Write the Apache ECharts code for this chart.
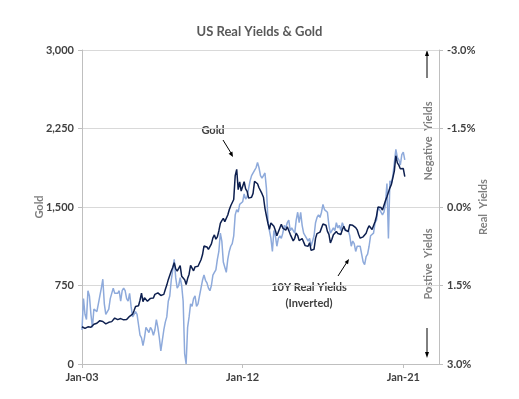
<!DOCTYPE html>
<html>
<head>
<meta charset="utf-8">
<script src="https://cdn.jsdelivr.net/npm/echarts@6/dist/echarts.min.js"></script>
<style>
  html, body { margin: 0; padding: 0; background: #fff; }
  #chart { width: 519px; height: 399px; }
</style>
</head>
<body>
<div id="chart"></div>
<script>
// monthly series, Jan-2003 .. Feb-2021
const startYear = 2003

const gold = [
  356, 359, 340, 328, 355, 356, 351, 360, 379, 379, 389, 407,
  414, 405, 406, 404, 384, 392, 398, 400, 405, 420, 439, 442,
  424, 423, 434, 429, 422, 430, 424, 438, 456, 470, 476, 510,
  550, 555, 557, 610, 676, 596, 633, 632, 599, 585, 627, 629,
  631, 665, 655, 679, 667, 655, 665, 665, 712, 754, 806, 803,
  889, 922, 968, 909, 888, 889, 939, 839, 829, 806, 760, 816,
  858, 943, 924, 890, 928, 946, 934, 949, 996, 1043, 1127, 1134,
  1118, 1095, 1113, 1148, 1205, 1233, 1193, 1215, 1271, 1343, 1370, 1391,
  1360, 1374, 1424, 1474, 1512, 1529, 1572, 1800, 1860, 1665, 1739, 1652,
  1656, 1742, 1673, 1650, 1585, 1596, 1594, 1630, 1744, 1747, 1722, 1684,
  1671, 1627, 1593, 1487, 1414, 1343, 1287, 1348, 1349, 1316, 1275, 1225,
  1244, 1300, 1336, 1299, 1288, 1279, 1311, 1296, 1239, 1222, 1176, 1201,
  1251, 1227, 1179, 1198, 1199, 1182, 1131, 1117, 1125, 1159, 1086, 1068,
  1097, 1200, 1246, 1242, 1260, 1276, 1337, 1341, 1326, 1267, 1238, 1157,
  1192, 1234, 1231, 1267, 1246, 1260, 1237, 1283, 1315, 1280, 1283, 1265,
  1331, 1331, 1325, 1334, 1303, 1282, 1238, 1202, 1199, 1215, 1221, 1250,
  1291, 1320, 1301, 1286, 1283, 1359, 1413, 1500, 1510, 1495, 1471, 1480,
  1560, 1597, 1591, 1683, 1716, 1732, 1846, 1990, 1921, 1900, 1866, 1858,
  1867, 1790
]

// 10Y real yield, %, plotted on the inverted right axis
const realYield = [
  2.35, 1.75, 2.05, 2.15, 1.6, 1.7, 2.05, 2.3, 1.95, 1.95, 2.0, 1.85,
  1.7, 1.55, 1.38, 1.85, 2.05, 2.05, 1.95, 1.75, 1.65, 1.55, 1.65, 1.65,
  1.65, 1.6, 1.8, 1.6, 1.55, 1.6, 1.75, 1.8, 1.65, 1.9, 2.1, 2.05,
  2.0, 2.05, 2.25, 2.45, 2.5, 2.65, 2.5, 2.3, 2.35, 2.4, 2.3, 2.35,
  2.45, 2.35, 2.15, 2.3, 2.5, 2.75, 2.55, 2.35, 2.2, 2.1, 1.8, 1.7,
  1.4, 1.2, 1.0, 1.35, 1.55, 1.5, 1.35, 1.5, 1.8, 2.8, 3.0, 2.3,
  2.1, 1.85, 1.9, 1.75, 1.7, 1.9, 1.85, 1.7, 1.55, 1.4, 1.3, 1.4,
  1.45, 1.55, 1.6, 1.5, 1.3, 1.25, 1.2, 1.0, 0.85, 0.5, 0.65, 1.05,
  1.15, 1.25, 1.0, 0.85, 0.75, 0.7, 0.55, 0.15, 0.05, 0.1, -0.05, -0.05,
  -0.1, -0.25, -0.15, -0.2, -0.35, -0.5, -0.6, -0.6, -0.7, -0.75, -0.85, -0.75,
  -0.6, -0.55, -0.6, -0.65, -0.35, 0.25, 0.45, 0.6, 0.85, 0.45, 0.55, 0.75,
  0.6, 0.55, 0.6, 0.5, 0.35, 0.4, 0.3, 0.25, 0.45, 0.4, 0.45, 0.5,
  0.25, 0.1, 0.3, 0.1, 0.35, 0.5, 0.5, 0.6, 0.65, 0.6, 0.75, 0.75,
  0.55, 0.3, 0.2, 0.15, 0.2, 0.1, -0.05, 0.05, 0.05, 0.1, 0.35, 0.5,
  0.45, 0.4, 0.45, 0.3, 0.4, 0.35, 0.45, 0.3, 0.3, 0.45, 0.45, 0.45,
  0.55, 0.75, 0.65, 0.7, 0.85, 0.75, 0.75, 0.75, 0.9, 1.05, 1.1, 0.95,
  0.9, 0.75, 0.55, 0.55, 0.5, 0.3, 0.25, 0.0, 0.05, 0.1, 0.15, 0.1,
  -0.05, -0.45, 0.6, -0.5, -0.45, -0.6, -0.85, -1.1, -0.95, -0.9, -0.8, -1.0,
  -1.05, -0.9
]

const xTickYears = [2003, 2012, 2021]
const xTickLabels = ['Jan-03', 'Jan-12', 'Jan-21']

const FONT = 'Lato, "DejaVu Sans", sans-serif'
const labelColor = '#404040'
const nameColor = '#7f7f7f'
const lineGray = '#bfbfbf'

const toXY = (arr) => arr.map((v, i) => [startYear + i / 12, v])

const chart = echarts.init(document.getElementById('chart'))

const arrowHead = (pts) => ({
  type: 'polygon',
  shape: { points: pts },
  style: { fill: '#000' },
})

const option = {
  animation: false,
  title: {
    text: 'US Real Yields & Gold',
    left: 'center',
    top: 20,
    textStyle: { fontFamily: FONT, fontSize: 13, fontWeight: 'bold', color: '#595959' },
  },
  grid: { left: 82, right: 80, top: 50, bottom: 35 },
  xAxis: {
    type: 'value',
    min: 2003,
    max: 2023,
    axisLine: { lineStyle: { color: lineGray } },
    axisTick: { show: true, customValues: xTickYears, length: 4, lineStyle: { color: lineGray } },
    axisLabel: {
      customValues: xTickYears,
      formatter: (v) => xTickLabels[xTickYears.indexOf(Math.round(v))] || '',
      fontFamily: FONT,
      fontSize: 11,
      fontWeight: 'bold',
      color: labelColor,
      margin: 8,
    },
    splitLine: { show: false },
  },
  yAxis: [
    {
      type: 'value',
      min: 0,
      max: 3000,
      interval: 750,
      name: 'Gold',
      nameLocation: 'middle',
      nameGap: 37,
      nameRotate: 90,
      nameMoveOverlap: false,
      nameTextStyle: { fontFamily: FONT, fontSize: 11, fontWeight: 'bold', color: nameColor },
      axisLine: { show: true, lineStyle: { color: lineGray } },
      axisTick: { show: true, length: 4, lineStyle: { color: lineGray } },
      axisLabel: {
        formatter: (v) => v.toLocaleString('en-US'),
        fontFamily: FONT,
        fontSize: 11,
        fontWeight: 'bold',
        color: labelColor,
        margin: 8,
      },
      splitLine: { lineStyle: { color: '#d9d9d9' } },
    },
    {
      type: 'value',
      min: -3,
      max: 3,
      interval: 1.5,
      inverse: true,
      position: 'right',
      name: 'Real  Yields',
      nameLocation: 'middle',
      nameGap: 39,
      nameRotate: 90,
      nameMoveOverlap: false,
      nameTextStyle: { fontFamily: FONT, fontSize: 11, fontWeight: 'bold', color: nameColor },
      axisLine: { show: true, lineStyle: { color: lineGray } },
      axisTick: { show: true, length: 4, lineStyle: { color: lineGray } },
      axisLabel: {
        formatter: (v) => v.toFixed(1) + '%',
        fontFamily: FONT,
        fontSize: 11,
        fontWeight: 'bold',
        color: labelColor,
        margin: 8,
      },
      splitLine: { show: false },
    },
  ],
  series: [
    {
      name: '10Y Real Yields (Inverted)',
      type: 'line',
      yAxisIndex: 1,
      data: toXY(realYield),
      symbol: 'none',
      lineStyle: { color: '#8eaadb', width: 1.5 },
    },
    {
      name: 'Gold',
      type: 'line',
      yAxisIndex: 0,
      data: toXY(gold),
      symbol: 'none',
      lineStyle: { color: '#0d1f4f', width: 1.5 },
    },
  ],
  graphic: [
    {
      type: 'text',
      x: 213, y: 130,
      style: { text: 'Gold', fontFamily: FONT, fontSize: 11, fontWeight: 'bold', fill: labelColor, align: 'center', verticalAlign: 'middle' },
    },
    { type: 'line', shape: { x1: 223, y1: 140, x2: 231, y2: 153 }, style: { stroke: '#000', lineWidth: 1 } },
    arrowHead([[233, 157], [228.6, 153.8], [232.4, 151.6]]),
    {
      type: 'text',
      x: 309, y: 287,
      style: { text: '10Y Real Yields', fontFamily: FONT, fontSize: 11, fontWeight: 'bold', fill: labelColor, align: 'center', verticalAlign: 'middle' },
    },
    {
      type: 'text',
      x: 309, y: 303,
      style: { text: '(Inverted)', fontFamily: FONT, fontSize: 11, fontWeight: 'bold', fill: labelColor, align: 'center', verticalAlign: 'middle' },
    },
    { type: 'line', shape: { x1: 338, y1: 276, x2: 347, y2: 262 }, style: { stroke: '#000', lineWidth: 1 } },
    arrowHead([[349, 259], [348, 264.3], [344.6, 262.1]]),
    {
      type: 'text',
      x: 428, y: 141,
      rotation: Math.PI / 2,
      style: { text: 'Negative  Yields', fontFamily: FONT, fontSize: 11, fontWeight: 'bold', fill: nameColor, align: 'center', verticalAlign: 'middle' },
    },
    {
      type: 'text',
      x: 428, y: 264,
      rotation: Math.PI / 2,
      style: { text: 'Postive  Yields', fontFamily: FONT, fontSize: 11, fontWeight: 'bold', fill: nameColor, align: 'center', verticalAlign: 'middle' },
    },
    { type: 'line', shape: { x1: 427, y1: 78, x2: 427, y2: 55 }, style: { stroke: '#000', lineWidth: 1 } },
    arrowHead([[427, 50], [425, 56], [429, 56]]),
    { type: 'line', shape: { x1: 427, y1: 328, x2: 427, y2: 353 }, style: { stroke: '#000', lineWidth: 1 } },
    arrowHead([[427, 358], [425, 352], [429, 352]]),
  ],
}

chart.setOption(option)
</script>
</body>
</html>
